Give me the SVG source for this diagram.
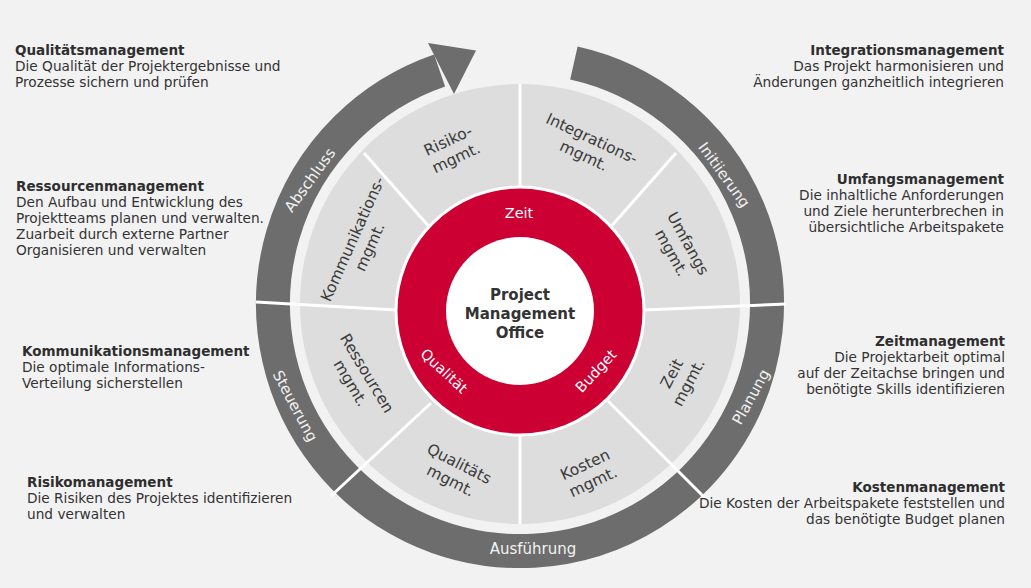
<svg xmlns="http://www.w3.org/2000/svg" width="1031" height="588" viewBox="0 0 1031 588">
<style>
text{font-family:"DejaVu Sans",Verdana,sans-serif}
.t{font-size:13.7px;fill:#333}
.b{font-weight:bold;fill:#2e2e2e;font-size:13.5px}
.r{text-anchor:end}
.seg{font-size:15.5px;fill:#3a3a3a;text-anchor:middle}
.ring{font-size:14.5px;fill:#fff;text-anchor:middle}
.phase{font-size:15px;fill:#f2f2f2;text-anchor:middle}
.div{stroke:#fff;stroke-width:3;fill:none}
.ctr{font-size:15px;font-weight:bold;fill:#333;text-anchor:middle}
</style>
<rect width="1031" height="588" fill="#f2f2f2"/>
<g id="phase-ring">
<path d="M573.9 63 A247 247 0 1 1 439.6 70.5" fill="none" stroke="#6d6d6d" stroke-width="34"/>
<polygon points="428,43 476,50.5 454,94" fill="#6d6d6d"/>
</g>
<circle id="segment-ring" cx="520" cy="304" r="220" fill="#dddddd"/>
<g id="dividers" class="div">
<line x1="520" y1="84" x2="520" y2="190"/>
<line x1="520" y1="430" x2="520" y2="524"/>
<line x1="364" y1="153" x2="432" y2="230"/>
<line x1="676" y1="153" x2="608" y2="230"/>
<line x1="256" y1="302" x2="396" y2="310"/>
<line x1="644" y1="310" x2="786" y2="304"/>
<line x1="431" y1="403" x2="331" y2="496"/>
<line x1="608" y1="401" x2="706" y2="499"/>
</g>
<g id="pmo">
<circle cx="520" cy="311" r="124" fill="#cc0033" stroke="#fff" stroke-width="3"/>
<circle cx="520" cy="311" r="74" fill="#fff"/>
<text class="ctr"><tspan x="520" y="300">Project</tspan><tspan x="520" y="319">Management</tspan><tspan x="520" y="338">Office</tspan></text>
<text class="ring" x="519" y="218">Zeit</text>
<text class="ring" transform="translate(444,371) rotate(43)" y="5">Qualität</text>
<text class="ring" transform="translate(596,371) rotate(-47)" y="5">Budget</text>
</g>
<g id="seg-risiko" transform="translate(452,149) rotate(-25)"><text class="seg"><tspan x="0" y="-4">Risiko-</tspan><tspan x="0" y="15">mgmt.</tspan></text></g>
<g id="seg-integration" transform="translate(588,147) rotate(25)"><text class="seg"><tspan x="0" y="-4">Integrations-</tspan><tspan x="0" y="15">mgmt.</tspan></text></g>
<g id="seg-kommunikation" transform="translate(361,243) rotate(-66)"><text class="seg"><tspan x="0" y="-4">Kommunikations-</tspan><tspan x="0" y="15">mgmt.</tspan></text></g>
<g id="seg-umfang" transform="translate(680,248) rotate(61)"><text class="seg"><tspan x="0" y="-4">Umfangs</tspan><tspan x="0" y="15">mgmt.</tspan></text></g>
<g id="seg-ressourcen" transform="translate(359,378) rotate(59)"><text class="seg"><tspan x="0" y="-4">Ressourcen</tspan><tspan x="0" y="15">mgmt.</tspan></text></g>
<g id="seg-zeit" transform="translate(680,378) rotate(-62)"><text class="seg"><tspan x="0" y="-4">Zeit</tspan><tspan x="0" y="15">mgmt.</tspan></text></g>
<g id="seg-qualitaet" transform="translate(455,472) rotate(27)"><text class="seg"><tspan x="0" y="-4">Qualitäts</tspan><tspan x="0" y="15">mgmt.</tspan></text></g>
<g id="seg-kosten" transform="translate(589,473) rotate(-25)"><text class="seg"><tspan x="0" y="-4">Kosten</tspan><tspan x="0" y="15">mgmt.</tspan></text></g>
<g id="phase-labels">
<text class="phase" transform="translate(724,175) rotate(54)" y="5">Initiierung</text>
<text class="phase" transform="translate(751,397) rotate(-61)" y="5">Planung</text>
<text class="phase" x="533" y="554">Ausführung</text>
<text class="phase" transform="translate(295,406) rotate(62)" y="5">Steuerung</text>
<text class="phase" transform="translate(310,180) rotate(-54)" y="5">Abschluss</text>
</g>
<g id="desc-qualitaet"><text class="t"><tspan class="b" x="15" y="55">Qualitätsmanagement</tspan><tspan x="15" y="71">Die Qualität der Projektergebnisse und</tspan><tspan x="15" y="87">Prozesse sichern und prüfen</tspan></text></g>
<g id="desc-ressourcen"><text class="t"><tspan class="b" x="16" y="191">Ressourcenmanagement</tspan><tspan x="16" y="207">Den Aufbau und Entwicklung des</tspan><tspan x="16" y="223">Projektteams planen und verwalten.</tspan><tspan x="16" y="239">Zuarbeit durch externe Partner</tspan><tspan x="16" y="255">Organisieren und verwalten</tspan></text></g>
<g id="desc-kommunikation"><text class="t"><tspan class="b" x="22" y="356">Kommunikationsmanagement</tspan><tspan x="22" y="372">Die optimale Informations-</tspan><tspan x="22" y="388">Verteilung sicherstellen</tspan></text></g>
<g id="desc-risiko"><text class="t"><tspan class="b" x="27" y="487">Risikomanagement</tspan><tspan x="27" y="503">Die Risiken des Projektes identifizieren</tspan><tspan x="27" y="519">und verwalten</tspan></text></g>
<g id="desc-integration"><text class="t r"><tspan class="b" x="1004" y="55">Integrationsmanagement</tspan><tspan x="1004" y="71">Das Projekt harmonisieren und</tspan><tspan x="1004" y="87">Änderungen ganzheitlich integrieren</tspan></text></g>
<g id="desc-umfang"><text class="t r"><tspan class="b" x="1004" y="184">Umfangsmanagement</tspan><tspan x="1004" y="200">Die inhaltliche Anforderungen</tspan><tspan x="1004" y="216">und Ziele herunterbrechen in</tspan><tspan x="1004" y="232">übersichtliche Arbeitspakete</tspan></text></g>
<g id="desc-zeit"><text class="t r"><tspan class="b" x="1005" y="346">Zeitmanagement</tspan><tspan x="1005" y="362">Die Projektarbeit optimal</tspan><tspan x="1005" y="378">auf der Zeitachse bringen und</tspan><tspan x="1005" y="394">benötigte Skills identifizieren</tspan></text></g>
<g id="desc-kosten"><text class="t r"><tspan class="b" x="1005" y="492">Kostenmanagement</tspan><tspan x="1005" y="508">Die Kosten der Arbeitspakete feststellen und</tspan><tspan x="1005" y="524">das benötigte Budget planen</tspan></text></g>
</svg>
